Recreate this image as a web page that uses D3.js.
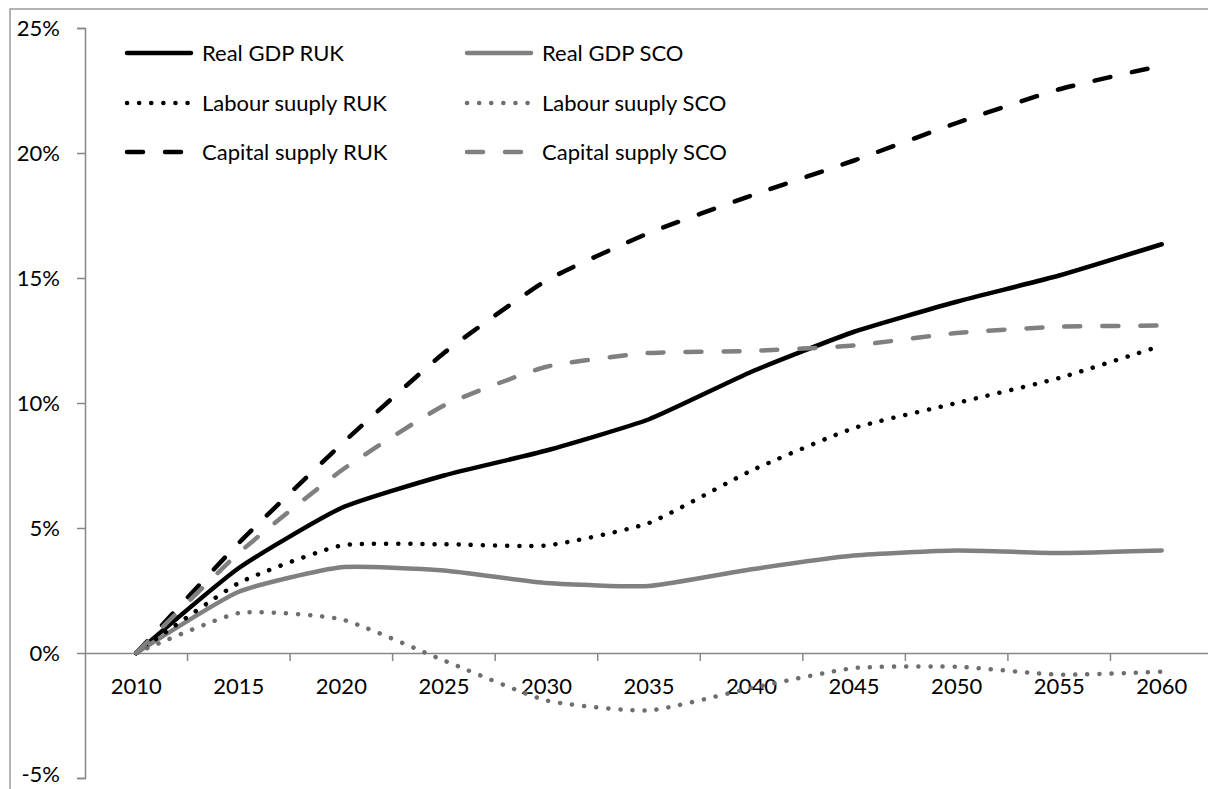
<!DOCTYPE html>
<html>
<head>
<meta charset="utf-8">
<script src="https://cdn.jsdelivr.net/npm/d3@7"></script>
<style>
  html, body { margin: 0; padding: 0; background: #fff; }
  svg { display: block; font-family: Lato, "Open Sans", sans-serif; }
</style>
</head>
<body>
<svg id="chart" width="1208" height="789"></svg>
<script>
// --- Data (percent change from 2010) ---
const years = ["2010", "2015", "2020", "2025", "2030", "2035", "2040", "2045", "2050", "2055", "2060"];

const realGdpRuk = [0, 3.4, 5.8, 7.1, 8.1, 9.35, 11.25, 12.85, 14.05, 15.1, 16.35];
const realGdpSco = [0, 2.45, 3.43, 3.3, 2.8, 2.68, 3.35, 3.9, 4.1, 4.0, 4.1];
const labourRuk = [0, 2.8, 4.3, 4.35, 4.3, 5.2, 7.3, 9.0, 10.0, 11.0, 12.3];
const labourSco = [0, 1.6, 1.35, -0.3, -1.9, -2.3, -1.4, -0.6, -0.55, -0.87, -0.75];
const capitalRuk = [0, 4.4, 8.35, 12.0, 14.9, 16.8, 18.3, 19.7, 21.2, 22.55, 23.5];
const capitalSco = [0, 4.0, 7.3, 9.9, 11.45, 12.0, 12.08, 12.3, 12.8, 13.05, 13.1];

const yTicks = [-5, 0, 5, 10, 15, 20, 25];

// series in Excel draw order (later ones on top)
const series = [
  { name: "Real GDP RUK", values: realGdpRuk, color: "#000", dash: null },
  { name: "Real GDP SCO", values: realGdpSco, color: "#808080", dash: null },
  { name: "Labour suuply RUK", values: labourRuk, color: "#000", dash: "0.1,12" },
  { name: "Labour suuply SCO", values: labourSco, color: "#6e6e6e", dash: "0.1,12" },
  { name: "Capital supply RUK", values: capitalRuk, color: "#000", dash: "16,22" },
  { name: "Capital supply SCO", values: capitalSco, color: "#808080", dash: "16,22" }
];

const svg = d3.select("#chart");
const axisColor = "#878787";

// chart area border (only left/top visible in the crop)
svg.append("rect")
  .attr("x", 10).attr("y", 9)
  .attr("width", 1400).attr("height", 1000)
  .attr("fill", "none").attr("stroke", "#8c8c8c").attr("stroke-width", 1.3);

const x = d3.scaleBand().domain(years).range([85, 1213]);
const y = d3.scaleLinear().domain([-5, 25]).range([778, 28]);
const cx = d => x(d) + x.bandwidth() / 2;

// --- Y axis ---
const yAxis = svg.append("g")
  .attr("transform", "translate(85,0)")
  .call(d3.axisLeft(y).tickValues(yTicks).tickFormat(d => d + "%").tickSize(8).tickPadding(17));
yAxis.select(".domain").attr("stroke", axisColor).attr("stroke-width", 1.5);
yAxis.selectAll(".tick line").attr("stroke", axisColor).attr("stroke-width", 1.5);
yAxis.selectAll(".tick text").attr("font-size", 22).attr("fill", "#000")
  .attr("font-family", "Lato, sans-serif")
  .attr("y", d => d === -5 ? -4 : 0);   // keep the bottom label inside the frame

// --- X axis (crosses at 0%) ---
const xAxis = svg.append("g")
  .attr("transform", `translate(0,${y(0)})`)
  .call(d3.axisBottom(x).tickSize(0).tickSizeOuter(0));
xAxis.select(".domain").attr("stroke", axisColor).attr("stroke-width", 1.5);
xAxis.selectAll(".tick text")
  .attr("y", 33).attr("dy", "0.36em")
  .attr("font-size", 22).attr("fill", "#000")
  .attr("font-family", "Lato, sans-serif");

// tick marks sit between the categories
xAxis.selectAll(".edge")
  .data(years.slice(1))
  .enter().append("line")
  .attr("x1", d => x(d)).attr("x2", d => x(d))
  .attr("y1", 0).attr("y2", 8)
  .attr("stroke", axisColor).attr("stroke-width", 1.5);

// --- Lines ---
const line = d3.line()
  .x((d, i) => cx(years[i]))
  .y(d => y(d))
  .curve(d3.curveCardinal.tension(0.5));

svg.append("g").selectAll("path")
  .data(series)
  .enter().append("path")
  .attr("d", d => line(d.values))
  .attr("fill", "none")
  .attr("stroke", d => d.color)
  .attr("stroke-width", 4.5)
  .attr("stroke-linecap", "round")
  .attr("stroke-linejoin", "round")
  .attr("stroke-dasharray", d => d.dash);

// --- Legend ---
const legendCols = [125, 465];
const legendRows = [53, 103, 152];

const legend = svg.append("g").selectAll("g")
  .data(series)
  .enter().append("g")
  .attr("transform", (d, i) => `translate(${legendCols[i % 2]},${legendRows[Math.floor(i / 2)]})`);

legend.append("line")
  .attr("x1", 2).attr("x2", 66)
  .attr("stroke", d => d.color)
  .attr("stroke-width", 4.5)
  .attr("stroke-linecap", "round")
  .attr("stroke-dasharray", d => d.dash);

legend.append("text")
  .attr("x", 77).attr("dy", "0.36em")
  .attr("font-size", 22)
  .text(d => d.name);
</script>
</body>
</html>
